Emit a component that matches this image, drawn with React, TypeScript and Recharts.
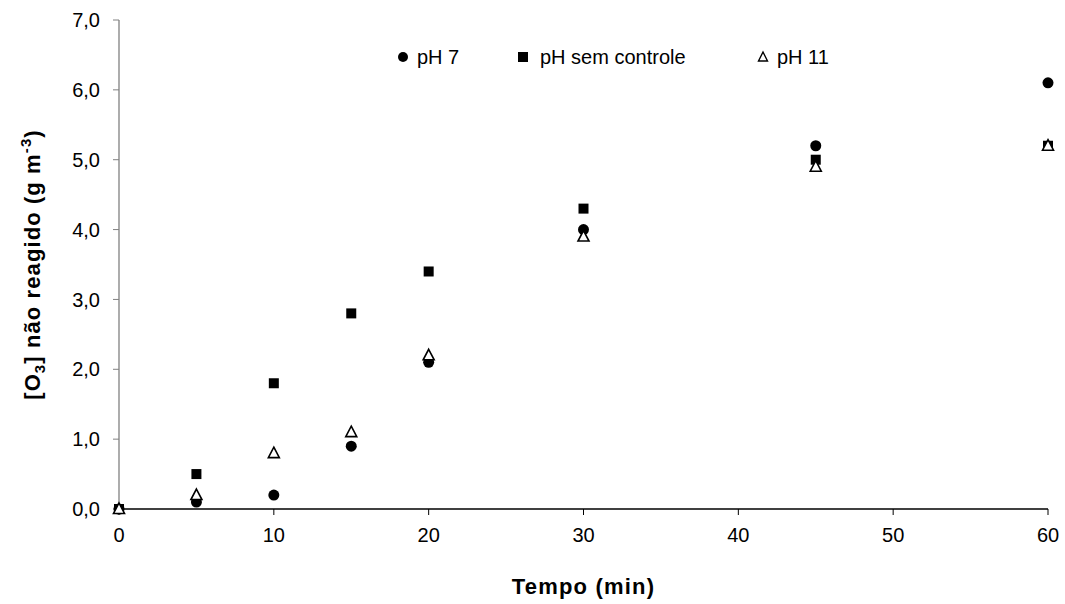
import React from "react";
import { ScatterChart, Scatter, XAxis, YAxis, Legend } from "recharts";

const times = [0, 5, 10, 15, 20, 30, 45, 60];
const ph7 = [0, 0.1, 0.2, 0.9, 2.1, 4.0, 5.2, 6.1];
const phSemControle = [0, 0.5, 1.8, 2.8, 3.4, 4.3, 5.0, 5.2];
const ph11 = [0, 0.2, 0.8, 1.1, 2.2, 3.9, 4.9, 5.2];
const xTicks = [0, 10, 20, 30, 40, 50, 60];
const yTicks = [0, 1, 2, 3, 4, 5, 6, 7];
const seriesNames = ["pH 7", "pH sem controle", "pH 11"];

const toPoints = (vals: number[]) => times.map((t, i) => ({ x: t, y: vals[i] }));

const FONT = "'Liberation Sans', Arial, sans-serif";

const CircleShape = (p: any) => <circle cx={p.cx} cy={p.cy} r={5.5} fill="#000" />;
const SquareShape = (p: any) => (
  <rect x={p.cx - 5} y={p.cy - 5} width={10} height={10} fill="#000" />
);
const TriangleShape = (p: any) => (
  <path
    d={`M${p.cx},${p.cy - 6} L${p.cx + 5.5},${p.cy + 4.5} L${p.cx - 5.5},${p.cy + 4.5} Z`}
    fill="#fff"
    stroke="#000"
    strokeWidth={1.6}
  />
);

const LegendContent = () => (
  <svg width={470} height={30} style={{ display: "block" }}>
    <circle cx={13} cy={12} r={5} fill="#000" />
    <text x={27} y={19} fontFamily={FONT} fontSize={20} fill="#000">{seriesNames[0]}</text>
    <rect x={128} y={7} width={10} height={10} fill="#000" />
    <text x={150} y={19} fontFamily={FONT} fontSize={20} fill="#000">{seriesNames[1]}</text>
    <path d="M373,7 L377.5,16 L368.5,16 Z" fill="#fff" stroke="#000" strokeWidth={1.4} />
    <text x={387} y={19} fontFamily={FONT} fontSize={20} fill="#000">{seriesNames[2]}</text>
  </svg>
);

const YLabel = (props: any) => {
  const vb = props.viewBox || { x: 0, y: 20, height: 489 };
  const cx = 40;
  const cy = vb.y + vb.height / 2;
  return (
    <text
      x={cx}
      y={cy}
      transform={`rotate(-90, ${cx}, ${cy})`}
      textAnchor="middle"
      fontFamily={FONT}
      fontSize={22}
      fontWeight="bold"
      letterSpacing={1.1}
      fill="#000"
    >
      [O
      <tspan fontSize={15} dy={5}>3</tspan>
      <tspan dy={-5}>] não reagido (g m</tspan>
      <tspan fontSize={15} dy={-9}>-3</tspan>
      <tspan dy={9}>)</tspan>
    </text>
  );
};

const XLabel = (props: any) => {
  const vb = props.viewBox || { x: 119, width: 929 };
  return (
    <text
      x={vb.x + vb.width / 2}
      y={594}
      textAnchor="middle"
      fontFamily={FONT}
      fontSize={22}
      fontWeight="bold"
      letterSpacing={1.2}
      fill="#000"
    >
      Tempo (min)
    </text>
  );
};

const fmt = (v: number) => v.toFixed(1).replace(".", ",");

export default function App() {
  return (
    <div style={{ position: "absolute", left: 0, top: 0, width: 1065, height: 604, background: "#fff" }}>
      <ScatterChart
        width={1065}
        height={604}
        margin={{ top: 20, right: 17, left: 0, bottom: 0 }}
      >
        <XAxis
          type="number"
          dataKey="x"
          domain={[0, 60]}
          ticks={xTicks}
          height={95}
          axisLine={{ stroke: "#000", strokeWidth: 1.3 }}
          tickLine={{ stroke: "#000" }}
          tickSize={6}
          tickMargin={13}
          tick={{ fontFamily: FONT, fontSize: 20, fill: "#000" }}
          label={{ content: XLabel }}
        />
        <YAxis
          type="number"
          dataKey="y"
          domain={[0, 7]}
          ticks={yTicks}
          width={119}
          tickFormatter={fmt}
          axisLine={{ stroke: "#808080", strokeWidth: 1.3 }}
          tickLine={{ stroke: "#808080" }}
          tickSize={6}
          tickMargin={13}
          tick={{ fontFamily: FONT, fontSize: 20, fill: "#000" }}
          label={{ content: YLabel }}
        />
        <Legend
          content={LegendContent}
          layout="horizontal"
          verticalAlign="middle"
          align="center"
          wrapperStyle={{ position: "absolute", left: 390, top: 45, width: 470 }}
        />
        <Scatter name={seriesNames[0]} data={toPoints(ph7)} shape={CircleShape} isAnimationActive={false} />
        <Scatter name={seriesNames[1]} data={toPoints(phSemControle)} shape={SquareShape} isAnimationActive={false} />
        <Scatter name={seriesNames[2]} data={toPoints(ph11)} shape={TriangleShape} isAnimationActive={false} />
      </ScatterChart>
    </div>
  );
}
